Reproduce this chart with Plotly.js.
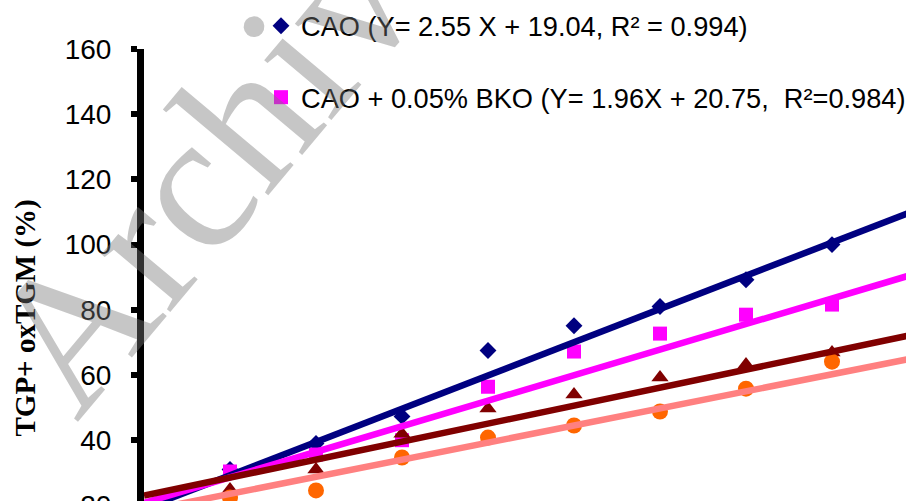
<!DOCTYPE html>
<html><head><meta charset="utf-8">
<script src="https://cdn.plot.ly/plotly-3.0.1.min.js"></script>
<style>
html,body{margin:0;padding:0;background:#fff;overflow:hidden}
#wrap{width:906px;height:501px;overflow:hidden}
#chart{width:906px;height:530px}
</style>
</head><body><div id="wrap"><div id="chart"></div></div>
<script>
// ---- data ----
const xValues = [4, 8, 12, 16, 20, 24, 28, 32];
const caoValues = [31.0, 39.0, 47.3, 67.5, 75.1, 81.0, 89.2, 100.0];
const caoBkoValues = [30.4, 35.6, 40.0, 56.4, 67.2, 72.7, 78.5, 81.6];
const series3Values = [24.9, 31.0, 42.0, 49.7, 54.0, 59.2, 63.2, 66.9];
const series4Values = [22.4, 24.6, 34.7, 40.8, 44.5, 48.8, 55.8, 64.1];
// trend lines (slope, intercept); first two as printed on the chart
const caoFit = [2.55, 19.04];
const caoBkoFit = [1.96, 20.75];
const series3Fit = [1.38, 23.0];
const series4Fit = [1.31, 18.3];
const fitXRange = [0, 36];
const yTickValues = [20, 40, 60, 80, 100, 120, 140, 160];
const caoLabel = 'CAO (Y= 2.55 X + 19.04, R² = 0.994)';
const caoBkoLabel = 'CAO + 0.05% BKO (Y= 1.96X + 20.75,\u00a0\u00a0R²=0.984)';
const yTitle = 'TGP+ oxTGM (%)';
const watermark = 'Archive';

// ---- layout helpers (pixel -> paper) ----
const W = 906, H = 530, L = 144, T = 49;
const plotW = W - L, plotH = H - T;
const px = x => (x - L) / plotW;
const py = y => (H - y) / plotH;
const pxPerUnit = 3.26;

const arial = 'Arial, "Liberation Sans", sans-serif';
const times = '"Times New Roman", "Liberation Serif", serif';

function fitLine(fit) {
  return fitXRange.map(x => fit[0] * x + fit[1]);
}

const traces = [
  {x: xValues, y: caoValues, type: 'scatter', mode: 'markers', name: caoLabel, legend: 'legend',
   marker: {symbol: 'diamond', size: 13, color: '#000080'}},
  {x: xValues, y: caoBkoValues, type: 'scatter', mode: 'markers', name: caoBkoLabel, legend: 'legend2',
   marker: {symbol: 'square', size: 14, color: '#FF00FF'}},
  {x: xValues, y: series3Values, type: 'scatter', mode: 'markers', showlegend: false,
   marker: {symbol: 'triangle-up', size: 15, color: '#800000'}},
  {x: xValues, y: series4Values, type: 'scatter', mode: 'markers', showlegend: false,
   marker: {symbol: 'circle', size: 16, color: '#FF6600'}},
  {x: fitXRange, y: fitLine(caoFit), type: 'scatter', mode: 'lines', showlegend: false,
   line: {color: '#000080', width: 6.5}},
  {x: fitXRange, y: fitLine(caoBkoFit), type: 'scatter', mode: 'lines', showlegend: false,
   line: {color: '#FF00FF', width: 6.5}},
  {x: fitXRange, y: fitLine(series3Fit), type: 'scatter', mode: 'lines', showlegend: false,
   line: {color: '#800000', width: 6.5}},
  {x: fitXRange, y: fitLine(series4Fit), type: 'scatter', mode: 'lines', showlegend: false,
   line: {color: '#FF8080', width: 6.5}}
];

const yTop = 160;
const yBottom = yTop - plotH / pxPerUnit;

const layout = {
  width: W, height: H,
  margin: {l: L, r: 0, t: T, b: 0, pad: 0, autoexpand: false},
  paper_bgcolor: '#ffffff', plot_bgcolor: '#ffffff',
  showlegend: true,
  xaxis: {range: [0, plotW / 21.5], visible: false, showgrid: false, zeroline: false},
  yaxis: {
    range: [yBottom, yTop], tickvals: yTickValues, ticktext: yTickValues.map(String),
    ticks: 'outside', ticklen: 6, tickwidth: 6, tickcolor: '#000',
    showline: true, linewidth: 7, linecolor: '#000',
    showgrid: false, zeroline: false,
    tickfont: {family: arial, size: 28, color: '#000'},
    ticklabelstandoff: 14
  },
  legend: {x: px(261), y: py(26), xanchor: 'left', yanchor: 'middle',
    font: {family: arial, size: 27.2, color: '#000'}, bgcolor: 'rgba(0,0,0,0)', borderwidth: 0},
  legend2: {x: px(261), y: py(97.5), xanchor: 'left', yanchor: 'middle',
    font: {family: arial, size: 27.2, color: '#000'}, bgcolor: 'rgba(0,0,0,0)', borderwidth: 0},
  annotations: [
    {text: '<b>' + yTitle + '</b>', xref: 'paper', yref: 'paper', x: px(25), y: py(318.5),
     xanchor: 'center', yanchor: 'middle', textangle: -90, showarrow: false,
     font: {family: times, size: 29, color: '#000'}},
    {text: watermark, xref: 'paper', yref: 'paper', x: px(228), y: py(139),
     xanchor: 'center', yanchor: 'middle', textangle: -50, showarrow: false,
     font: {family: times, size: 196, color: 'rgba(120,120,120,0.42)'}}
  ]
};

Plotly.newPlot('chart', traces, layout, {staticPlot: true, displayModeBar: false});
</script>
</body></html>
